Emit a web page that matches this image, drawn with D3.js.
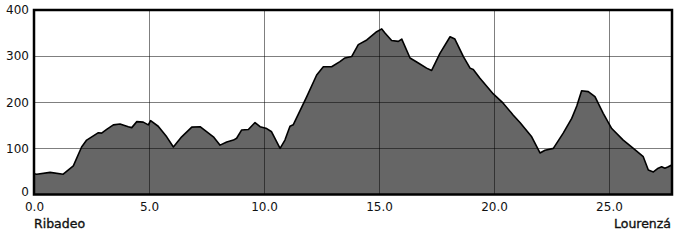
<!DOCTYPE html>
<html><head><meta charset="utf-8">
<script src="https://cdn.jsdelivr.net/npm/d3@7"></script>
<style>body{margin:0;background:#fff}svg{display:block}</style>
</head><body>
<script>
const distanceKm = [0.00,0.12,0.70,1.27,1.71,2.07,2.29,2.80,2.94,3.16,3.45,3.74,4.10,4.25,4.47,4.75,4.97,5.07,5.40,5.77,6.06,6.42,6.86,7.22,7.80,8.09,8.38,8.67,8.81,9.03,9.32,9.61,9.83,10.12,10.33,10.70,10.91,11.13,11.27,11.86,12.29,12.58,12.94,13.30,13.52,13.81,14.10,14.47,14.90,15.12,15.26,15.55,15.84,15.99,16.35,16.71,17.07,17.29,17.65,18.09,18.30,18.67,18.96,19.10,19.39,19.97,20.40,20.84,21.13,21.64,22.00,22.22,22.58,23.01,23.38,23.60,23.81,24.10,24.39,24.75,25.12,25.62,26.06,26.49,26.71,26.93,27.14,27.29,27.43,27.58,27.73];
const elevationM = [45,44,48,44,62,103,118,134,133,141,151,153,147,145,158,157,151,160,148,125,103,125,146,147,125,107,114,118,122,140,141,156,147,143,136,100,118,148,151,212,259,277,277,288,296,299,325,335,353,359,350,334,332,337,296,285,274,269,306,342,337,299,274,271,252,218,198,172,156,125,90,96,100,133,165,192,225,223,212,176,143,118,100,82,53,49,57,60,57,60,64];
const xTicks = [0,5,10,15,20,25];
const yTicks = [0,100,200,300,400];
const startLabel = "Ribadeo";
const endLabel = "Lourenzá";

const W = 700, H = 240;
const L = 34, R = 672, T = 10, B = 194.5;
const data = distanceKm.map((d,i)=>({x:d,y:elevationM[i]}));

const x = d3.scaleLinear().domain([0,27.74]).range([L,R]);
const y = d3.scaleLinear().domain([0,400]).range([B,T]);

const svg = d3.select("body").append("svg").attr("width",W).attr("height",H);
svg.append("rect").attr("width",W).attr("height",H).attr("fill","#fff");

const area = d3.area().x(d=>x(d.x)).y0(B).y1(d=>y(d.y));
const line = d3.line().x(d=>x(d.x)).y(d=>y(d.y));

svg.append("path").datum(data).attr("d",area).attr("fill","#666");

// grid (drawn over fill)
const g = svg.append("g").attr("stroke","rgba(0,0,0,0.5)").attr("stroke-width",1).attr("shape-rendering","crispEdges");
g.selectAll(".gx").data(xTicks.slice(1)).join("line")
  .attr("x1",d=>Math.round(x(d))+0.5).attr("x2",d=>Math.round(x(d))+0.5).attr("y1",T).attr("y2",B);
g.selectAll(".gy").data(yTicks.slice(1,-1)).join("line")
  .attr("y1",d=>Math.round(y(d))+0.5).attr("y2",d=>Math.round(y(d))+0.5).attr("x1",L).attr("x2",R);

svg.append("path").datum(data).attr("d",line).attr("fill","none").attr("stroke","#000").attr("stroke-width",1.6).attr("stroke-linejoin","round");

// frame
svg.append("rect").attr("x",L).attr("y",T).attr("width",R-L).attr("height",B-T)
  .attr("fill","none").attr("stroke","#000").attr("stroke-width",2.5);

const font = "DejaVu Sans, Verdana, sans-serif";
// axes
const yAxis = d3.axisLeft(y).tickValues(yTicks).tickSize(0).tickPadding(4).tickFormat(d3.format("d"));
const ya = svg.append("g").attr("transform",`translate(${L-1},0)`).call(yAxis);
ya.select(".domain").remove();
ya.selectAll("text").attr("font-family",font).attr("font-size",12).attr("fill","#111");
ya.selectAll(".tick").filter(d=>d===0).select("text").attr("dy","0.1em");

const xAxis = d3.axisBottom(x).tickValues(xTicks).tickSize(0).tickPadding(7).tickFormat(d3.format(".1f"));
const xa = svg.append("g").attr("transform",`translate(0,${B+1})`).call(xAxis);
xa.select(".domain").remove();
xa.selectAll("text").attr("font-family",font).attr("font-size",12).attr("fill","#111");

svg.append("text").attr("x",L).attr("y",228).text(startLabel)
  .attr("font-family",font).attr("font-size",12.5).attr("fill","#111").attr("stroke","#111").attr("stroke-width",0.35);
svg.append("text").attr("x",R-1).attr("y",228).attr("text-anchor","end").text(endLabel)
  .attr("font-family",font).attr("font-size",12.5).attr("fill","#111").attr("stroke","#111").attr("stroke-width",0.35);
</script>
</body></html>
